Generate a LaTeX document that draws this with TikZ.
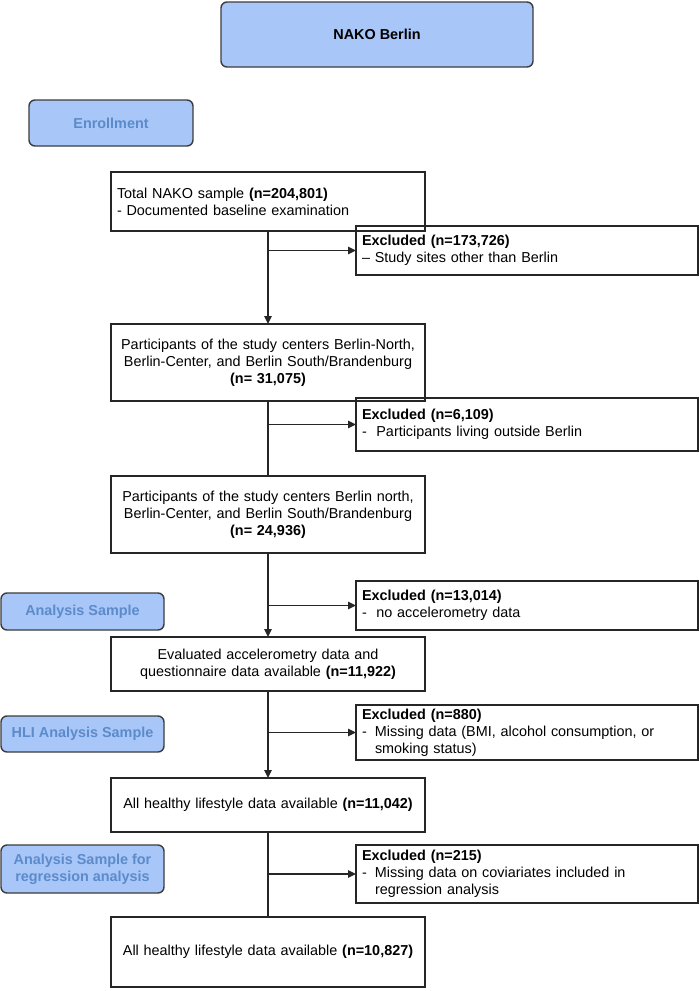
\documentclass[tikz,border=0pt]{standalone}
\usepackage{fontspec}
\setmainfont{Liberation Sans}
\usetikzlibrary{arrows.meta}
\definecolor{lblfill}{HTML}{A9C6F8}
\definecolor{lbltext}{HTML}{5B8BCB}
\definecolor{lbldraw}{HTML}{3C3C3C}
\begin{document}
\begin{tikzpicture}[x=1pt,y=-1pt,
  every node/.style={font=\fontsize{14.4}{17}\selectfont, inner sep=0pt, outer sep=0pt},
  lbl/.style={draw=lbldraw, fill=lblfill, line width=1.4pt, rounded corners=6pt,
    anchor=north west, font=\fontsize{14.4}{17}\selectfont\bfseries, text=lbltext, align=center},
  mainbox/.style={draw=black!85, line width=1.4pt, anchor=north west, inner xsep=6pt,
    text width=302pt, align=center},
  exbox/.style={draw=black!85, line width=1.4pt, anchor=north west, inner xsep=6pt,
    text width=330pt, align=left},
  arr/.style={line width=1.4pt, draw=black!85, -{Triangle[length=8pt,width=7.5pt]}},
  ln/.style={line width=1.4pt, draw=black!85}]
\useasboundingbox (0,0) rectangle (699,991);

% header and side labels
\node[lbl, text=black, minimum width=312pt, minimum height=65pt] (nako) at (221,2) {NAKO Berlin};
\node[lbl, minimum width=164pt, minimum height=46pt] (enr) at (29,100) {Enrollment};
\node[lbl, minimum width=163pt, minimum height=37pt] (ana) at (1,593) {Analysis Sample};
\node[lbl, minimum width=163pt, minimum height=36pt] (hli) at (1,716) {HLI Analysis Sample};
\node[lbl, minimum width=163pt, minimum height=48pt] (reg) at (1,845) {Analysis Sample for\\regression analysis};

% main flow
\node[mainbox, align=left, minimum height=59pt] (a) at (111,172)
  {Total NAKO sample \textbf{(n=204,801)}\\- Documented baseline examination};
\node[mainbox, minimum height=77pt] (b) at (111,324)
  {Participants of the study centers Berlin-North,\\Berlin-Center, and Berlin South/Brandenburg\\\textbf{(n= 31,075)}};
\node[mainbox, minimum height=77pt] (c) at (111,476)
  {Participants of the study centers Berlin north,\\Berlin-Center, and Berlin South/Brandenburg\\\textbf{(n= 24,936)}};
\node[mainbox, minimum height=54pt] (d) at (111,637)
  {Evaluated accelerometry data and\\questionnaire data available \textbf{(n=11,922)}};
\node[mainbox, minimum height=54pt] (e) at (111,778)
  {All healthy lifestyle data available \textbf{(n=11,042)}};
\node[mainbox, minimum height=70pt] (f) at (111,917)
  {All healthy lifestyle data available \textbf{(n=10,827)}};

% exclusion boxes
\node[exbox, minimum height=49pt] (x1) at (356,226)
  {\textbf{Excluded (n=173,726)}\\– Study sites other than Berlin};
\node[exbox, minimum height=53pt] (x2) at (356,398)
  {\textbf{Excluded (n=6,109)}\\-\ \ Participants living outside Berlin};
\node[exbox, minimum height=49pt] (x3) at (356,581)
  {\textbf{Excluded (n=13,014)}\\-\ \ no accelerometry data};
\node[exbox, minimum height=55pt] (x4) at (356,705)
  {\textbf{Excluded (n=880)}\\\makebox[13pt][l]{-}Missing data (BMI, alcohol consumption, or\\\hspace*{13pt}smoking status)};
\node[exbox, minimum height=58pt] (x5) at (356,845)
  {\textbf{Excluded (n=215)}\\\makebox[13pt][l]{-}Missing data on coviariates included in\\\hspace*{13pt}regression analysis};

% connectors
\draw[arr] (a.south) -- (b.north);
\draw[ln] (b.south) -- (c.north);
\draw[arr] (c.south) -- (d.north);
\draw[arr] (d.south) -- (e.north);
\draw[ln] (e.south) -- (f.north);
\draw[arr] (a.south |- x1.west) -- (x1.west);
\draw[arr] (b.south |- x2.west) -- (x2.west);
\draw[arr] (c.south |- x3.west) -- (x3.west);
\draw[arr] (d.south |- x4.west) -- (x4.west);
\draw[arr] (e.south |- x5.west) -- (x5.west);
\end{tikzpicture}
\end{document}
